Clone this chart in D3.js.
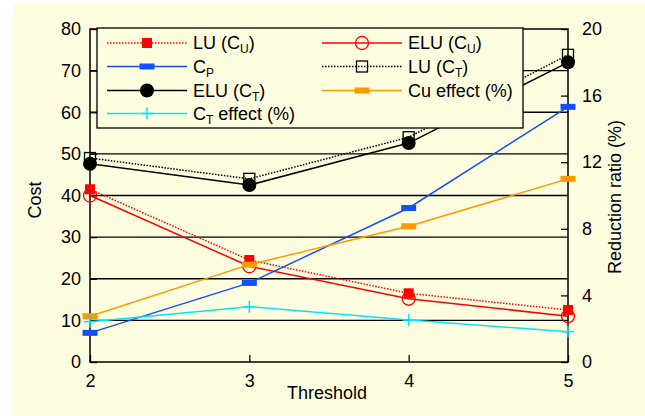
<!DOCTYPE html>
<html><head><meta charset="utf-8">
<script src="https://cdn.jsdelivr.net/npm/d3@7"></script>
<style>body{margin:0;background:#fff;}svg{display:block;font-family:"Liberation Sans",Arial,sans-serif;}</style>
</head><body>
<script>
const thresholds = [2, 3, 4, 5];
const luCu   = [41.5, 24.5, 16.5, 12.5];
const eluCu  = [40.0, 23.0, 15.2, 11.0];
const cp     = [7.0, 19.0, 37.0, 61.3];
const luCt   = [49.0, 44.0, 54.0, 73.8];
const eluCt  = [47.6, 42.5, 52.6, 72.0];
const cuEffect = [2.75, 5.85, 8.15, 11.0];
const ctEffect = [2.42, 3.32, 2.52, 1.82];
const leftTicks = [0, 10, 20, 30, 40, 50, 60, 70, 80];
const rightTicks = [0, 4, 8, 12, 16, 20];
const xTicks = [2, 3, 4, 5];

const W = 645, H = 416;
const svg = d3.select("body").append("svg").attr("width", W).attr("height", H);
svg.append("rect").attr("x", 13).attr("y", 3).attr("width", W - 13).attr("height", H - 3).attr("fill", "#fffde0");

const x = d3.scaleLinear().domain([2, 5]).range([90, 568]);
const yL = d3.scaleLinear().domain([0, 80]).range([362, 29]);
const yR = d3.scaleLinear().domain([0, 20]).range([362, 29]);

// gridlines
svg.append("g").selectAll("line").data(leftTicks.filter(d => d > 0 && d < 80)).join("line")
  .attr("x1", x(2)).attr("x2", x(5)).attr("y1", d => yL(d)).attr("y2", d => yL(d))
  .attr("stroke", "#000").attr("stroke-width", 1.3);

// frame
svg.append("rect").attr("x", x(2)).attr("y", yL(80)).attr("width", x(5) - x(2)).attr("height", yL(0) - yL(80))
  .attr("fill", "none").attr("stroke", "#000").attr("stroke-width", 1.5);

const fs = 18;
const gL = svg.append("g").attr("transform", `translate(${x(2)},0)`)
  .call(d3.axisLeft(yL).tickValues(leftTicks).tickSize(-7).tickPadding(9));
const gR = svg.append("g").attr("transform", `translate(${x(5)},0)`)
  .call(d3.axisRight(yR).tickValues(rightTicks).tickSize(-7).tickPadding(14));
const gB = svg.append("g").attr("transform", `translate(0,${yL(0)})`)
  .call(d3.axisBottom(x).tickValues(xTicks).tickFormat(d3.format("d")).tickSize(-7).tickPadding(12));
[gL, gR, gB].forEach(g => {
  g.select(".domain").remove();
  g.selectAll(".tick line").attr("stroke", "#000").attr("stroke-width", 1.3);
  g.selectAll(".tick text").attr("font-size", fs).attr("fill", "#000").attr("font-family", "Liberation Sans, Arial, sans-serif");
});

svg.append("text").attr("x", 327).attr("y", 399).attr("text-anchor", "middle").attr("font-size", fs).text("Threshold");
svg.append("text").attr("transform", "translate(41,200) rotate(-90)").attr("text-anchor", "middle").attr("font-size", fs).text("Cost");
svg.append("text").attr("transform", "translate(621,197) rotate(-90)").attr("text-anchor", "middle").attr("font-size", fs).text("Reduction ratio (%)");

const series = [
  {vals: luCu, y: yL, color: "#ff0000", dash: "1.5,1.5", marker: "fsquare"},
  {vals: eluCu, y: yL, color: "#ff0000", dash: null, marker: "ocircle"},
  {vals: cp, y: yL, color: "#1050ff", dash: null, marker: "bar"},
  {vals: luCt, y: yL, color: "#000", dash: "1.5,1.5", marker: "osquare"},
  {vals: eluCt, y: yL, color: "#000", dash: null, marker: "fcircle"},
  {vals: cuEffect, y: yR, color: "#ff9900", dash: null, marker: "bar"},
  {vals: ctEffect, y: yR, color: "#00e5ff", dash: null, marker: "plus"},
];

function drawMarker(g, type, cx, cy, color) {
  if (type === "fsquare") g.append("rect").attr("x", cx - 5).attr("y", cy - 5).attr("width", 10).attr("height", 10).attr("fill", color);
  else if (type === "osquare") g.append("rect").attr("x", cx - 5.5).attr("y", cy - 5.5).attr("width", 11).attr("height", 11).attr("fill", "none").attr("stroke", color).attr("stroke-width", 1.3);
  else if (type === "ocircle") g.append("circle").attr("cx", cx).attr("cy", cy).attr("r", 6.5).attr("fill", "none").attr("stroke", color).attr("stroke-width", 1.3);
  else if (type === "fcircle") g.append("circle").attr("cx", cx).attr("cy", cy).attr("r", 7).attr("fill", color);
  else if (type === "bar") g.append("rect").attr("x", cx - 7.5).attr("y", cy - 3).attr("width", 15).attr("height", 6).attr("fill", color);
  else if (type === "plus") {
    g.append("line").attr("x1", cx - 6).attr("x2", cx + 6).attr("y1", cy).attr("y2", cy).attr("stroke", color).attr("stroke-width", 1.5);
    g.append("line").attr("x1", cx).attr("x2", cx).attr("y1", cy - 6).attr("y2", cy + 6).attr("stroke", color).attr("stroke-width", 1.5);
  }
}

const dataG = svg.append("g");
series.forEach(s => {
  const line = d3.line().x((d, i) => x(thresholds[i])).y(d => s.y(d));
  const p = dataG.append("path").attr("d", line(s.vals)).attr("fill", "none").attr("stroke", s.color).attr("stroke-width", 1.5);
  if (s.dash) p.attr("stroke-dasharray", s.dash);
});
series.forEach(s => {
  s.vals.forEach((v, i) => drawMarker(dataG, s.marker, x(thresholds[i]), s.y(v), s.color));
});

// legend
const leg = svg.append("g");
leg.append("rect").attr("x", 97).attr("y", 28).attr("width", 426).attr("height", 100)
  .attr("fill", "#fffde0").attr("stroke", "#000").attr("stroke-width", 1.3);
const legendItems = [
  {s: 0, col: 0, row: 0, main: "LU (C", sub: "U", end: ")"},
  {s: 1, col: 1, row: 0, main: "ELU (C", sub: "U", end: ")"},
  {s: 2, col: 0, row: 1, main: "C", sub: "P", end: ""},
  {s: 3, col: 1, row: 1, main: "LU (C", sub: "T", end: ")"},
  {s: 4, col: 0, row: 2, main: "ELU (C", sub: "T", end: ")"},
  {s: 5, col: 1, row: 2, main: "Cu effect (%)", sub: "", end: ""},
  {s: 6, col: 0, row: 3, main: "C", sub: "T", end: " effect (%)"},
];
const colX = [107, 322];
const rowY = [43, 66.5, 90.5, 113.5];
legendItems.forEach(it => {
  const s = series[it.s];
  const x0 = colX[it.col], yy = rowY[it.row];
  const l = leg.append("line").attr("x1", x0).attr("x2", x0 + 80).attr("y1", yy).attr("y2", yy)
    .attr("stroke", s.color).attr("stroke-width", 1.5);
  if (s.dash) l.attr("stroke-dasharray", s.dash);
  drawMarker(leg, s.marker, x0 + 40, yy, s.color);
  const t = leg.append("text").attr("x", x0 + 86).attr("y", yy + 6).attr("font-size", fs);
  t.append("tspan").text(it.main);
  if (it.sub) t.append("tspan").attr("font-size", 12).attr("dy", 4).text(it.sub);
  if (it.end) t.append("tspan").attr("dy", it.sub ? -4 : 0).text(it.end);
});
</script>
</body></html>
